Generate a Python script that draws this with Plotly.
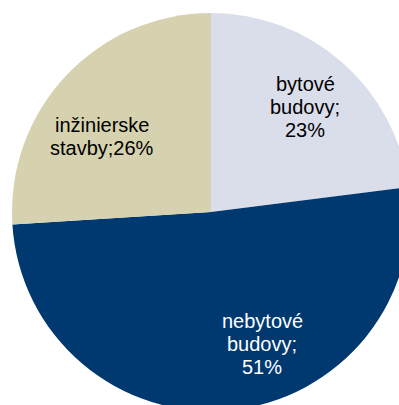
import plotly.graph_objects as go

labels = ["bytové budovy", "nebytové budovy", "inžinierske stavby"]
values = [23, 51, 26]
label_lines = [["bytové", "budovy;", "23%"],
               ["nebytové", "budovy;", "51%"],
               ["inžinierske", "stavby;26%"]]
colors = ["#DADDEA", "#003870", "#D6D2B0"]
text_colors = ["#000000", "#FFFFFF", "#000000"]

# layout constants (pixels)
W, H = 422, 424
ML, MT, MR, MB = 12, 13, 12, 13
FONT = 20
LINE_STEP = 23
# label anchor: (center x, first baseline y) in pixels
label_anchor = [(305, 91), (262, 328), (102, 132)]

fig = go.Figure(go.Pie(
    labels=labels,
    values=values,
    textinfo="none",
    sort=False,
    direction="clockwise",
    rotation=0,
    marker=dict(colors=colors, line=dict(width=0)),
    showlegend=False,
    hoverinfo="label+percent",
))

pw, ph = W - ML - MR, H - MT - MB
annotations = []
for lines, (cx, by), tc in zip(label_lines, label_anchor, text_colors):
    for i, line in enumerate(lines):
        base = by + i * LINE_STEP
        ymid = base - 7
        annotations.append(dict(
            text=line, showarrow=False,
            xref="paper", yref="paper",
            x=(cx - ML) / pw, y=1 - (ymid - MT) / ph,
            xanchor="center", yanchor="middle",
            font=dict(family="Liberation Sans, Arial, sans-serif", size=FONT, color=tc),
        ))

fig.update_layout(
    width=W, height=H,
    margin=dict(l=ML, r=MR, t=MT, b=MB),
    paper_bgcolor="white",
    plot_bgcolor="white",
    annotations=annotations,
)

fig.write_html(
    "out.html",
    config={"displayModeBar": False},
    post_script="document.body.style.margin='0';document.body.style.overflow='hidden';document.documentElement.style.overflow='hidden';",
)
